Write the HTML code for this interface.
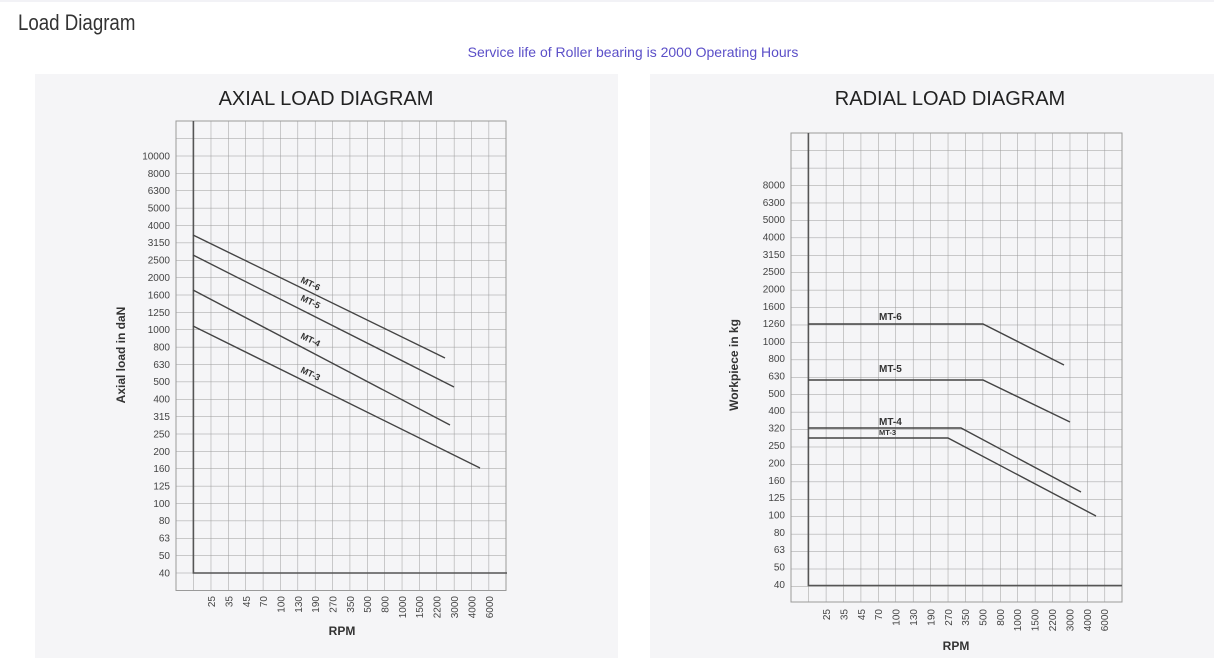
<!DOCTYPE html>
<html><head><meta charset="utf-8"><style>
html,body{margin:0;padding:0;background:#fff;width:1214px;height:664px;overflow:hidden;font-family:"Liberation Sans",sans-serif}
</style></head><body>
<svg width="1214" height="664" xmlns="http://www.w3.org/2000/svg" font-family="Liberation Sans, DejaVu Sans, sans-serif">
<defs>
<pattern id="ga" x="176" y="121" width="17.368" height="17.375" patternUnits="userSpaceOnUse">
<path d="M0 0V17.375M0 0H17.368" stroke="#9a9a9a" stroke-width="1" fill="none"/></pattern>
<pattern id="gr" x="791" y="133" width="17.42" height="17.43" patternUnits="userSpaceOnUse">
<path d="M0 0V17.43M0 0H17.42" stroke="#9a9a9a" stroke-width="1" fill="none"/></pattern>
</defs>
<line x1="0" y1="1" x2="1214" y2="1" stroke="#e4e4ee"/>
<text x="18" y="30" font-size="22" fill="#333" font-family="Liberation Sans Narrow, Liberation Sans, sans-serif" transform="scale(0.85,1)" style="transform-origin:18px 30px">Load Diagram</text>
<text x="633" y="57" font-size="14" fill="#5b4fc8" text-anchor="middle">Service life of Roller bearing is 2000 Operating Hours</text>

<rect x="35" y="74" width="583" height="584" fill="#f5f5f7"/>
<rect x="650" y="74" width="564" height="584" fill="#f5f5f7"/>

<!-- AXIAL -->
<text x="326" y="105" font-size="20" fill="#222" text-anchor="middle">AXIAL LOAD DIAGRAM</text>
<rect x="176" y="121" width="330" height="469.5" fill="url(#ga)" stroke="#9a9a9a"/>
<path d="M193.4 121V573H507" stroke="#555" stroke-width="1.6" fill="none"/>
<g font-size="10" fill="#444" text-anchor="end">
<text x="170" y="159.5">10000</text><text x="170" y="177">8000</text><text x="170" y="194">6300</text><text x="170" y="211.5">5000</text><text x="170" y="229">4000</text><text x="170" y="246">3150</text><text x="170" y="263.5">2500</text><text x="170" y="281">2000</text><text x="170" y="298.5">1600</text><text x="170" y="316">1250</text><text x="170" y="333">1000</text><text x="170" y="350.5">800</text><text x="170" y="368">630</text><text x="170" y="385">500</text><text x="170" y="402.5">400</text><text x="170" y="420">315</text><text x="170" y="437.5">250</text><text x="170" y="455">200</text><text x="170" y="472">160</text><text x="170" y="489.5">125</text><text x="170" y="507">100</text><text x="170" y="524">80</text><text x="170" y="541.5">63</text><text x="170" y="559">50</text><text x="170" y="576.5">40</text>
</g>
<g font-size="10" fill="#444" text-anchor="end">
<text transform="translate(215,596) rotate(-90)">25</text>
<text transform="translate(232.5,596) rotate(-90)">35</text>
<text transform="translate(250,596) rotate(-90)">45</text>
<text transform="translate(267,596) rotate(-90)">70</text>
<text transform="translate(284.5,596) rotate(-90)">100</text>
<text transform="translate(302,596) rotate(-90)">130</text>
<text transform="translate(319,596) rotate(-90)">190</text>
<text transform="translate(336.5,596) rotate(-90)">270</text>
<text transform="translate(354,596) rotate(-90)">350</text>
<text transform="translate(371,596) rotate(-90)">500</text>
<text transform="translate(388.5,596) rotate(-90)">800</text>
<text transform="translate(406,596) rotate(-90)">1000</text>
<text transform="translate(423,596) rotate(-90)">1500</text>
<text transform="translate(440.5,596) rotate(-90)">2200</text>
<text transform="translate(458,596) rotate(-90)">3000</text>
<text transform="translate(475.5,596) rotate(-90)">4000</text>
<text transform="translate(493,596) rotate(-90)">6000</text>
</g>
<text x="342" y="635" font-size="12" font-weight="bold" fill="#333" text-anchor="middle">RPM</text>
<text transform="translate(125,355) rotate(-90)" font-size="12" font-weight="bold" fill="#333" text-anchor="middle">Axial load in daN</text>
<g stroke="#444" stroke-width="1.4" fill="none">
<path d="M193 235L445 358"/><path d="M193 255L454 387"/><path d="M193 290L450 425"/><path d="M193 326L480 468"/>
</g>
<g font-size="9" font-weight="bold" fill="#333">
<text transform="translate(300,282) rotate(26)">MT-6</text>
<text transform="translate(300,300) rotate(26)">MT-5</text>
<text transform="translate(300,338) rotate(26)">MT-4</text>
<text transform="translate(300,372) rotate(26)">MT-3</text>
</g>

<!-- RADIAL -->
<text x="950" y="105" font-size="20" fill="#222" text-anchor="middle">RADIAL LOAD DIAGRAM</text>
<rect x="791" y="133" width="331" height="469" fill="url(#gr)" stroke="#9a9a9a"/>
<path d="M808.4 133V585.5H1122" stroke="#555" stroke-width="1.6" fill="none"/>
<g font-size="10" fill="#444" text-anchor="end">
<text x="785" y="188.5">8000</text><text x="785" y="206">6300</text><text x="785" y="223">5000</text><text x="785" y="240.5">4000</text><text x="785" y="258">3150</text><text x="785" y="275">2500</text><text x="785" y="292.5">2000</text><text x="785" y="310">1600</text><text x="785" y="327">1260</text><text x="785" y="345">1000</text><text x="785" y="362">800</text><text x="785" y="379.5">630</text><text x="785" y="397">500</text><text x="785" y="414">400</text><text x="785" y="431.5">320</text><text x="785" y="449">250</text><text x="785" y="466.5">200</text><text x="785" y="484">160</text><text x="785" y="501">125</text><text x="785" y="518.5">100</text><text x="785" y="536">80</text><text x="785" y="553">63</text><text x="785" y="570.5">50</text><text x="785" y="588">40</text>
</g>
<g font-size="10" fill="#444" text-anchor="end">
<text transform="translate(830,609) rotate(-90)">25</text>
<text transform="translate(847.5,609) rotate(-90)">35</text>
<text transform="translate(865,609) rotate(-90)">45</text>
<text transform="translate(882,609) rotate(-90)">70</text>
<text transform="translate(899.5,609) rotate(-90)">100</text>
<text transform="translate(917,609) rotate(-90)">130</text>
<text transform="translate(934.5,609) rotate(-90)">190</text>
<text transform="translate(952,609) rotate(-90)">270</text>
<text transform="translate(969,609) rotate(-90)">350</text>
<text transform="translate(986.5,609) rotate(-90)">500</text>
<text transform="translate(1004,609) rotate(-90)">800</text>
<text transform="translate(1021,609) rotate(-90)">1000</text>
<text transform="translate(1038.5,609) rotate(-90)">1500</text>
<text transform="translate(1056,609) rotate(-90)">2200</text>
<text transform="translate(1073.5,609) rotate(-90)">3000</text>
<text transform="translate(1091,609) rotate(-90)">4000</text>
<text transform="translate(1108,609) rotate(-90)">6000</text>
</g>
<text x="956" y="650" font-size="12" font-weight="bold" fill="#333" text-anchor="middle">RPM</text>
<text transform="translate(738,365) rotate(-90)" font-size="12" font-weight="bold" fill="#333" text-anchor="middle">Workpiece in kg</text>
<g stroke="#444" stroke-width="1.4" fill="none">
<path d="M808 324H983L1064 365"/><path d="M808 380H983L1070 422"/><path d="M808 428H961L1081 492"/><path d="M808 438H948L1096 516"/>
</g>
<g font-weight="bold" fill="#333">
<text x="879" y="320" font-size="10">MT-6</text>
<text x="879" y="372" font-size="10">MT-5</text>
<text x="879" y="425" font-size="10">MT-4</text>
<text x="879" y="435" font-size="7.5">MT-3</text>
</g>
</svg>
</body></html>
